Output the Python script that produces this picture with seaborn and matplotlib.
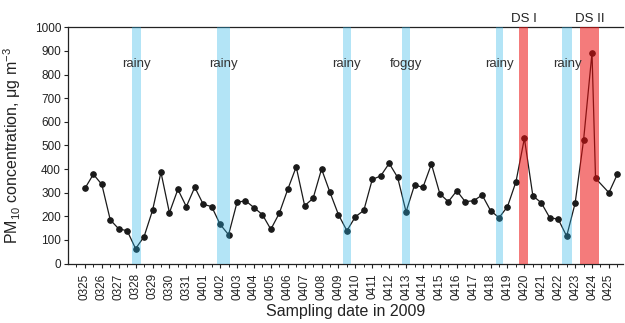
import matplotlib
matplotlib.use("Agg")
import matplotlib.pyplot as plt
import matplotlib.dates as mdates
import matplotlib.ticker as mticker
import seaborn as sns
import pandas as pd

# ---- data -------------------------------------------------------------
sample_times = [
    "0325 00", "0325 12", "0326 00", "0326 12", "0327 00", "0327 12",
    "0328 00", "0328 12", "0329 00", "0329 12", "0330 00", "0330 12",
    "0331 00", "0331 12", "0401 00", "0401 12", "0402 00", "0402 12",
    "0403 00", "0403 12", "0404 00", "0404 12", "0405 00", "0405 12",
    "0406 00", "0406 12", "0407 00", "0407 12", "0408 00", "0408 12",
    "0409 00", "0409 12", "0410 00", "0410 12", "0411 00", "0411 12",
    "0412 00", "0412 12", "0413 00", "0413 12", "0414 00", "0414 12",
    "0415 00", "0415 12", "0416 00", "0416 12", "0417 00", "0417 12",
    "0418 00", "0418 12", "0419 00", "0419 12", "0420 00", "0420 12",
    "0421 00", "0421 12", "0422 00", "0422 12", "0423 00", "0423 12",
    "0424 00", "0424 05", "0425 00", "0425 12",
]
pm10 = [
    318, 378, 335, 185, 147, 139, 63, 114, 225, 386, 215, 314,
    241, 323, 251, 241, 166, 122, 259, 266, 237, 207, 145, 213,
    314, 409, 245, 276, 400, 301, 207, 139, 198, 225, 356, 371,
    424, 365, 219, 332, 323, 421, 295, 262, 308, 262, 266, 290,
    224, 194, 241, 346, 530, 287, 257, 194, 188, 116, 255, 522,
    892, 361, 300, 378,
]

event_labels = ["rainy", "rainy", "rainy", "foggy", "rainy", "DS I", "rainy", "DS II"]
event_kind = ["weather", "weather", "weather", "weather", "weather", "dust", "weather", "dust"]
event_start = ["0327 18:15", "0401 19:30", "0409 06:45", "0412 18:45",
               "0418 07:15", "0419 16:45", "0422 05:15", "0423 07:30"]
event_end = ["0328 07:30", "0402 14:30", "0409 17:15", "0413 05:00",
             "0418 18:00", "0420 05:30", "0422 20:00", "0424 09:30"]

tick_start = "0325"
tick_end = "0425"
y_ticks = [0, 100, 200, 300, 400, 500, 600, 700, 800, 900, 1000]

# ---- build ------------------------------------------------------------
YEAR = "2009"
df = pd.DataFrame({
    "time": pd.to_datetime([YEAR + s for s in sample_times], format="%Y%m%d %H"),
    "pm10": pm10,
})
ev = pd.DataFrame({
    "label": event_labels,
    "kind": event_kind,
    "start": pd.to_datetime([YEAR + s for s in event_start], format="%Y%m%d %H:%M"),
    "end": pd.to_datetime([YEAR + s for s in event_end], format="%Y%m%d %H:%M"),
})

sns.set_style("ticks")
plt.rcParams["font.family"] = ["Liberation Sans", "DejaVu Sans"]
plt.rcParams["mathtext.fontset"] = "custom"
plt.rcParams["mathtext.rm"] = "Liberation Sans"
plt.rcParams["mathtext.it"] = "Liberation Sans:italic"

fig = plt.figure(figsize=(6.25, 3.23), dpi=100)
ax = fig.add_axes([0.1088, 0.184, 0.888, 0.7315])

sns.lineplot(data=df, x="time", y="pm10", ax=ax, color="#1a1a1a",
             linewidth=0.9, marker="o", markersize=4.0,
             markeredgecolor="#1a1a1a", markerfacecolor="#1a1a1a", zorder=2)

band_colors = {"weather": ("#26b4e8", 0.35), "dust": ("#eb0f0f", 0.55)}
for _, r in ev.iterrows():
    c, a = band_colors[r["kind"]]
    ax.axvspan(r["start"], r["end"], color=c, alpha=a, lw=0, zorder=3)
    mid = r["start"] + (r["end"] - r["start"]) / 2
    if r["kind"] == "dust":
        ax.text(mid, 1022, r["label"], ha="center", va="baseline",
                fontsize=9.5, color="#222222", clip_on=False, zorder=5)
    else:
        ax.text(mid, 833, r["label"], ha="center", va="baseline",
                fontsize=9.5, color="#333333", zorder=5)

t0 = pd.Timestamp(YEAR + tick_start)
t1 = pd.Timestamp(YEAR + tick_end)
ax.set_xlim(t0 - pd.Timedelta(hours=24), t1 + pd.Timedelta(hours=20))
ax.set_ylim(0, 1000)
ax.set_yticks(y_ticks)

day_ticks = pd.date_range(t0, t1, freq="D")
half_ticks = pd.date_range(t0 - pd.Timedelta(hours=12), t1 + pd.Timedelta(hours=12), freq="12h")
ax.xaxis.set_major_locator(mticker.FixedLocator(mdates.date2num(day_ticks)))
ax.xaxis.set_minor_locator(mticker.FixedLocator(mdates.date2num(half_ticks)))
ax.xaxis.set_major_formatter(mdates.DateFormatter("%m%d"))
for lab in ax.get_xticklabels():
    lab.set_rotation(90)

ax.tick_params(axis="x", which="major", length=3, width=0.8, labelsize=8.5,
               pad=4, colors="#222222", direction="out")
ax.tick_params(axis="x", which="minor", length=2, width=0.7, direction="out")
ax.tick_params(axis="y", which="major", length=3, width=0.8, labelsize=8.5,
               pad=2, colors="#222222", direction="out")

for side in ["left", "bottom", "top"]:
    ax.spines[side].set_visible(True)
    ax.spines[side].set_linewidth(0.9)
    ax.spines[side].set_color("#222222")
ax.spines["right"].set_visible(False)

ax.set_ylabel("PM$_{10}$ concentration, μg m$^{-3}$", fontsize=11.5,
              color="#222222", labelpad=8)
ax.set_xlabel("Sampling date in 2009", fontsize=11.5, color="#222222",
              labelpad=3)

fig.savefig("out.png", dpi=100)
